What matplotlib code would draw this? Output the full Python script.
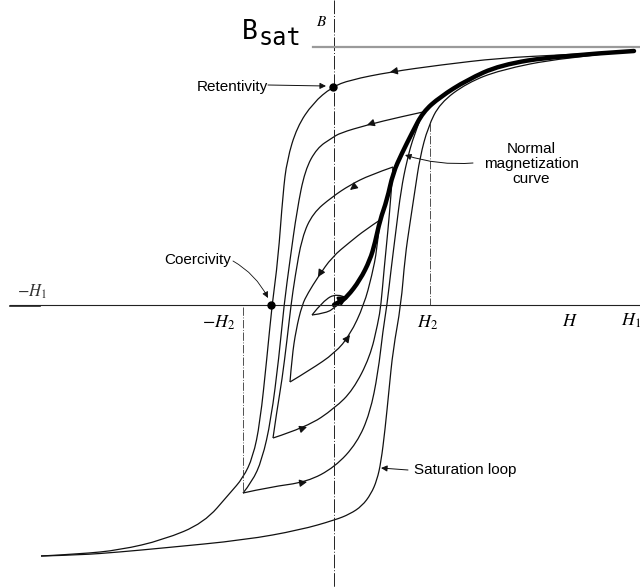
import matplotlib
matplotlib.use('Agg')
import matplotlib.pyplot as plt
from matplotlib.path import Path
from matplotlib.patches import PathPatch

# curve points (x, y in picture units, y down)
sat_down = [(634, 51), (560, 55), (500, 58), (440, 65), (390, 72), (350, 80), (332, 87),
            (313, 103), (297, 127), (287, 160), (283, 193), (278, 260), (272, 305),
            (267, 357), (260, 423), (253, 457), (243, 478), (230, 493), (204, 523),
            (163, 540), (120, 550), (80, 554), (41, 556)]
sat_up = [(41, 556), (80, 555), (120, 552), (163, 548), (245, 540), (300, 530), (335, 520),
          (350, 514), (362, 506), (371, 494), (377, 480), (381, 462), (385, 430),
          (389, 390), (393, 350), (401, 305), (405, 257), (410, 223), (415, 190),
          (420, 157), (428, 127), (440, 103), (467, 83), (500, 70), (560, 58), (634, 51)]

loop1_down = [(423, 112), (400, 117), (367, 125), (340, 133), (332, 138), (317, 148),
              (305, 170), (297, 210), (290, 260), (284, 305), (279, 357), (271, 420),
              (262, 460), (252, 482), (243, 493)]
loop1_up = [(243, 493), (270, 487), (307, 482), (335, 467), (357, 443), (370, 413),
            (378, 373), (383, 330), (387, 305), (391, 270), (396, 230), (401, 190),
            (407, 160), (414, 135), (423, 112)]

loop2_down = [(393, 167), (370, 175), (350, 185), (332, 197), (313, 213), (302, 237),
              (295, 277), (291, 305), (287, 340), (282, 380), (277, 410), (273, 438)]
loop2_up = [(273, 438), (307, 427), (335, 408), (353, 390), (370, 357), (378, 323),
            (381, 305), (384, 270), (388, 230), (391, 195), (393, 167)]

loop3_down = [(380, 220), (365, 230), (350, 242), (332, 257), (318, 277), (308, 293),
              (302, 305), (296, 330), (292, 357), (290, 382)]
loop3_up = [(290, 382), (310, 370), (335, 353), (350, 335), (364, 305), (372, 275),
            (377, 250), (380, 220)]

small_top = [(347, 298), (337, 293), (323, 301), (312, 315)]
small_bot = [(312, 315), (327, 313), (335, 307), (347, 298)]

normal_curve = [(334, 305), (340, 302), (347, 297), (360, 280), (370, 260), (375, 243),
                (380, 220), (387, 200), (393, 173), (402, 153), (412, 133), (423, 112),
                (440, 97), (467, 80), (500, 65), (556, 56), (634, 51)]

# arrowheads on the loops: (x, y, dx, dy)
curve_arrows = [(390, 72, -6, 1), (367, 125, -6, 2), (350, 190, -5, 4), (318, 277, -3, 5),
                (350, 335, 3, -4), (307, 427, 6, -2), (307, 482, 6, -1)]


def smooth(pts):
    verts = [pts[0]]
    codes = [Path.MOVETO]
    n = len(pts)
    if n == 2:
        verts.append(pts[1])
        codes.append(Path.LINETO)
    for i in range(1, n - 1):
        if i < n - 2:
            end = ((pts[i][0] + pts[i + 1][0]) / 2, (pts[i][1] + pts[i + 1][1]) / 2)
        else:
            end = pts[n - 1]
        verts += [pts[i], end]
        codes += [Path.CURVE3, Path.CURVE3]
    return Path(verts, codes)


plt.rcParams['mathtext.fontset'] = 'stix'

fig = plt.figure(figsize=(6.4, 5.88), dpi=100)
ax = fig.add_axes([0, 0, 1, 1])
ax.set_xlim(0, 640)
ax.set_ylim(588, 0)
ax.axis('off')

# axes of the diagram
ax.plot([334, 334], [0, 588], color='#222', lw=0.7, ls=(0, (14, 2, 1, 2)))
ax.plot([10, 640], [305, 305], color='#222', lw=0.8)
ax.plot([10, 40], [306, 306], color='#222', lw=1.2)
ax.plot([313, 640], [47, 47], color='#9a9a9a', lw=1.6)
ax.plot([430, 430], [123, 305], color='#333', lw=0.6, ls=(0, (10, 2, 1, 2)))
ax.plot([243, 243], [307, 493], color='#333', lw=0.6, ls=(0, (10, 2, 1, 2)))

for c in [sat_down, sat_up, loop1_down, loop1_up, loop2_down, loop2_up,
          loop3_down, loop3_up, small_top, small_bot]:
    ax.add_patch(PathPatch(smooth(c), fill=False, ec='#111', lw=0.9))
ax.add_patch(PathPatch(smooth(normal_curve), fill=False, ec='#000', lw=3.2,
                       capstyle='round'))

for x, y, dx, dy in curve_arrows:
    ax.annotate('', xy=(x, y), xytext=(x - dx, y - dy),
                arrowprops=dict(arrowstyle='-|>', color='#111', lw=0.8,
                                mutation_scale=11, shrinkA=0, shrinkB=0))
ax.annotate('', xy=(348, 296), xytext=(334, 304),
            arrowprops=dict(arrowstyle='-|>', color='#000', lw=2,
                            mutation_scale=12, shrinkA=0, shrinkB=0))

# points
ax.plot([333, 271], [87, 305], 'o', color='#000', ms=5)

# labels
sans = 'Liberation Sans'
ax.text(268, 87, 'Retentivity', family=sans, fontsize=11, ha='right', va='center')
ax.annotate('', xy=(326, 86), xytext=(268, 85),
            arrowprops=dict(arrowstyle='-|>', color='#111', lw=0.7,
                            mutation_scale=9, shrinkA=0, shrinkB=0))
ax.text(531, 164, 'Normal\nmagnetization\ncurve', family=sans, fontsize=11,
        ha='center', va='center', linespacing=1.05)
ax.annotate('', xy=(405, 155), xytext=(473, 163),
            arrowprops=dict(arrowstyle='-|>', color='#111', lw=0.7, mutation_scale=9,
                            shrinkA=0, shrinkB=0, connectionstyle='arc3,rad=-0.1'))
ax.text(231, 260, 'Coercivity', family=sans, fontsize=11, ha='right', va='center')
ax.annotate('', xy=(268, 298), xytext=(233, 261),
            arrowprops=dict(arrowstyle='-|>', color='#111', lw=0.6, mutation_scale=9,
                            shrinkA=0, shrinkB=0, connectionstyle='arc3,rad=-0.15'))
ax.text(414, 470, 'Saturation loop', family=sans, fontsize=11, ha='left', va='center')
ax.annotate('', xy=(381, 468), xytext=(408, 470),
            arrowprops=dict(arrowstyle='-|>', color='#111', lw=0.7,
                            mutation_scale=9, shrinkA=0, shrinkB=0))

mono = 'DejaVu Sans Mono'
ax.text(242, 39, 'B', family=mono, fontsize=19, ha='left', va='baseline')
ax.text(259, 45, 'sat', family=mono, fontsize=17, ha='left', va='baseline')
ax.text(322, 22, '$B$', fontsize=11, ha='center', va='center')

ax.text(32, 292, r'$-H_1$', fontsize=12, ha='center', va='center', color='#333')
ax.text(219, 323, r'$-H_2$', fontsize=13, ha='center', va='center')
ax.text(428, 323, r'$H_2$', fontsize=13, ha='center', va='center')
ax.text(570, 321, r'$H$', fontsize=13, ha='center', va='center')
ax.text(621, 321, r'$H_1$', fontsize=13, ha='left', va='center')

fig.savefig('out.png', dpi=100)
